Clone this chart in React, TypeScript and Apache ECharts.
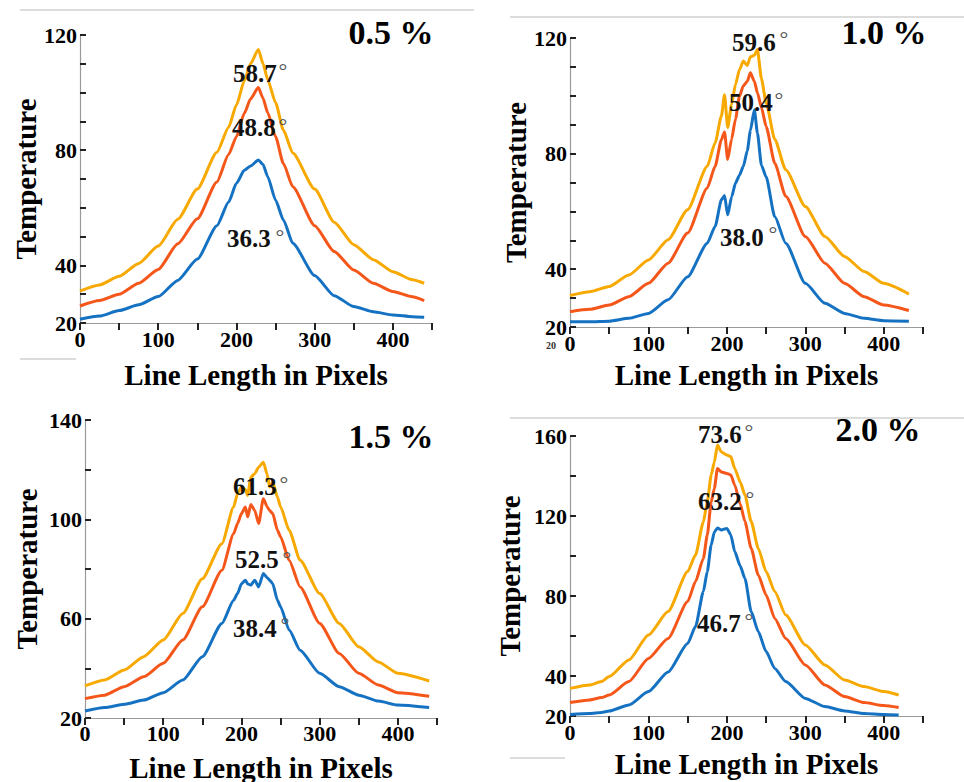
import React, { useEffect, useRef } from "react";
import * as echarts from "echarts";

// ---------- data ----------
// Panel 1: 0.5 %
const X1 = [0, 25, 50, 75, 100, 125, 150, 175, 190, 200, 210, 218, 228, 234, 240, 250, 260, 272, 300, 325, 350, 375, 400, 425, 440];
const Y1 = [31.1, 33.2, 36.2, 40.7, 46.7, 56, 66.5, 79.3, 88, 95.7, 104, 110, 115, 110, 104.5, 96.5, 87, 79, 66.5, 55, 47.2, 42, 37.8, 35, 33.8];
const R1 = [25.9, 27.8, 30, 33.8, 38.6, 47.5, 56.2, 69, 78.5, 84.7, 92.8, 97.8, 101.8, 98, 93, 84.7, 75.4, 67.3, 53.8, 44.8, 38.4, 33.8, 30.9, 29.1, 27.8];
const B1 = [21.3, 22.4, 24.3, 26.3, 29.2, 34.8, 42.2, 53.8, 62, 68.5, 73, 74.5, 76.6, 75, 70.8, 62.7, 55.8, 47.7, 36.5, 29.5, 25.7, 23.9, 22.8, 22.2, 22];

// Panel 2: 1.0 %
const X2 = [0, 25, 50, 75, 100, 125, 150, 175, 185, 193, 197, 201, 206, 211, 216, 221, 226, 230, 235, 239, 244, 250, 261, 275, 300, 325, 350, 375, 400, 432];
const Y2 = [30.9, 32.2, 34, 38, 43.2, 50.2, 60.6, 75.6, 83.7, 93, 100.4, 89, 97, 104, 109, 112, 110.5, 113.5, 114, 116, 106, 97.5, 85, 74.4, 61.7, 51.3, 44.4, 39.2, 35.1, 31.4];
const R2 = [25.3, 26.1, 27.6, 30.5, 35.1, 42.1, 52.5, 68.1, 75.6, 84.8, 87.5, 78, 85, 92, 99.8, 103.5, 105, 108, 105, 101, 96, 89.4, 76.7, 65.2, 51.3, 42.1, 35.1, 30.5, 27.6, 25.7];
const B2 = [21.8, 21.8, 22, 23, 24.7, 29.4, 37.4, 49, 54.8, 64, 65.5, 58.8, 65, 69.8, 72.5, 75.6, 81, 88, 95.2, 87, 76, 72, 58.2, 49, 35.1, 28.2, 24.7, 23, 22.2, 22];

// Panel 3: 1.5 %
const X3 = [0, 25, 50, 75, 100, 125, 150, 175, 190, 195, 200, 205, 208, 212, 217, 222, 228, 233, 236, 240, 246, 250, 261, 275, 300, 325, 350, 375, 400, 440];
const Y3 = [32.9, 35.3, 39.3, 44.7, 51.4, 62.1, 76.1, 90.2, 105, 110.3, 113, 112, 109.6, 117, 118.4, 121, 123, 118, 113, 115, 109, 105, 95.6, 83.5, 70.1, 58.1, 48.7, 42.6, 38, 34.9];
const R3 = [27.8, 29.2, 32.6, 36.6, 42, 51.4, 64.8, 79.5, 94.2, 98.3, 102.3, 105, 101, 106, 103.6, 98.3, 108.3, 105, 103.6, 102.3, 95.6, 93, 83.5, 72.8, 58.1, 46, 38, 33.3, 30.2, 28.8];
const B3 = [22.8, 24.2, 25.5, 27.2, 30.2, 35.3, 44.7, 58.1, 67.4, 70.1, 74.1, 75.5, 74, 73.5, 75.5, 72.8, 78.2, 76.5, 75.5, 74.1, 67.4, 64.8, 55.4, 47.3, 38, 32.6, 29.2, 26.8, 25.2, 24.2];

// Panel 4: 2.0 %
const X4 = [0, 25, 40, 50, 75, 100, 125, 150, 160, 170, 175, 180, 184, 188, 193, 200, 205, 210, 217, 223, 231, 240, 250, 261, 275, 300, 325, 350, 375, 400, 419];
const Y4 = [33.8, 35.5, 37.2, 39.7, 48, 60.5, 72.2, 92.2, 100.5, 117, 127, 140.5, 147, 155.5, 152, 150.5, 149.7, 143.8, 137, 130.5, 117.2, 103.8, 92.2, 82.2, 70.5, 55.5, 45.5, 38, 34.7, 32.2, 30.5];
const R4 = [26.7, 28, 29.2, 30.5, 37.2, 48.8, 58.8, 77.2, 87.2, 98.8, 110.5, 127, 133.8, 143.8, 142, 141.3, 140.5, 135.5, 126, 117.2, 103.8, 90.5, 80.5, 68.8, 58.8, 45.5, 35.5, 29.7, 26.7, 25.2, 24.2];
const B4 = [20.8, 21.3, 21.8, 22.5, 25.5, 32.2, 42, 56.3, 64.7, 82.2, 92.2, 105.5, 112, 114, 113, 113.8, 110.5, 102.2, 95, 88.8, 72.2, 62.2, 52.2, 43.8, 37.2, 28.8, 24.7, 22.5, 21.3, 20.8, 20.5];

// tick labels
const XTICK_LABELS = [0, 100, 200, 300, 400];
const YTICK_LABELS_1 = [20, 40, 80, 120];
const YTICK_LABELS_2 = [20, 40, 80, 120];
const YTICK_LABELS_3 = [20, 60, 100, 140];
const YTICK_LABELS_4 = [20, 40, 80, 120, 160];

// titles and peak annotations
const TITLES = ["0.5 %", "1.0 %", "1.5 %", "2.0 %"];
const PEAK_LABELS = [
  ["58.7", "48.8", "36.3"],
  ["59.6", "50.4", "38.0"],
  ["61.3", "52.5", "38.4"],
  ["73.6", "63.2", "46.7"],
];

const FONT = "'Liberation Serif', 'Times New Roman', serif";
const COL_B = "#1572C2";
const COL_R = "#F5561A";
const COL_Y = "#F7A900";

export default function App() {
  const ref = useRef<HTMLDivElement>(null);

  useEffect(() => {
    if (!ref.current) return;
    const chart = echarts.init(ref.current, undefined, { renderer: "svg" });

    const panels = [
      { xs: X1, b: B1, r: R1, y: Y1, grid: { left: 80, top: 35, width: 352, height: 288 }, yMax: 120, yInt: 10, yLabels: YTICK_LABELS_1, gapY: 40, gapX: 37, xm: 5 },
      { xs: X2, b: B2, r: R2, y: Y2, grid: { left: 570, top: 38, width: 353, height: 289 }, yMax: 120, yInt: 10, yLabels: YTICK_LABELS_2, gapY: 34, gapX: 33, xm: 5 },
      { xs: X3, b: B3, r: R3, y: Y3, grid: { left: 85, top: 420, width: 352, height: 298 }, yMax: 140, yInt: 20, yLabels: YTICK_LABELS_3, gapY: 44, gapX: 35, xm: 4 },
      { xs: X4, b: B4, r: R4, y: Y4, grid: { left: 570, top: 436, width: 353, height: 280 }, yMax: 160, yInt: 20, yLabels: YTICK_LABELS_4, gapY: 46, gapX: 33, xm: 5 },
    ];

    const nameStyle = { fontSize: 29, fontWeight: "bold", fontFamily: FONT, color: "#000" };
    const labelStyle = { fontSize: 22, fontWeight: "bold", fontFamily: FONT, color: "#000" };

    const grids = panels.map((p) => ({ ...p.grid, containLabel: false, outerBoundsMode: "none" }));
    const xAxes = panels.map((p, i) => ({
      type: "value",
      gridIndex: i,
      min: 0,
      max: 450,
      interval: 50,
      name: "Line Length in Pixels",
      nameLocation: "middle",
      nameGap: p.gapX,
      nameTextStyle: nameStyle,
      splitLine: { show: false },
      axisLine: { show: true, lineStyle: { color: "#9a9a9a", width: 1.2 } },
      axisTick: { show: true, inside: false, length: 7, lineStyle: { color: "#222", width: 2 } },
      axisLabel: {
        ...labelStyle,
        margin: p.xm,
        formatter: (v: number) => (XTICK_LABELS.indexOf(v) >= 0 ? String(v) : ""),
      },
    }));
    const yAxes = panels.map((p, i) => ({
      type: "value",
      gridIndex: i,
      min: 20,
      max: p.yMax,
      interval: p.yInt,
      name: "Temperature",
      nameLocation: "middle",
      nameGap: p.gapY,
      nameTextStyle: nameStyle,
      splitLine: { show: false },
      axisLine: { show: true, lineStyle: { color: "#9a9a9a", width: 1.2 } },
      axisTick: { show: true, inside: true, length: 6, lineStyle: { color: "#222", width: 2 } },
      axisLabel: {
        ...labelStyle,
        margin: 3,
        formatter: (v: number) => (p.yLabels.indexOf(v) >= 0 ? String(v) : ""),
      },
    }));

    const series: any[] = [];
    panels.forEach((p, i) => {
      const defs = [
        { vals: p.b, color: COL_B },
        { vals: p.r, color: COL_R },
        { vals: p.y, color: COL_Y },
      ];
      defs.forEach((d, k) => {
        series.push({
          type: "line",
          xAxisIndex: i,
          yAxisIndex: i,
          data: p.xs.map((x, j) => [x, d.vals[j]]),
          showSymbol: false,
          symbol: "none",
          smooth: 0.2,
          smoothMonotone: "x",
          lineStyle: { width: 3, color: d.color },
          itemStyle: { color: d.color },
          z: 2 + k,
        });
      });
    });

    // annotation positions (pixels): [left x of number, center y, ring x, ring y]
    const annPos = [
      [[233, 73, 283, 65], [232, 127, 283, 120], [227, 238, 280, 231]],
      [[732, 42, 784, 33], [729, 102, 779, 94], [720, 237, 773, 228]],
      [[233, 486, 284, 478], [235, 559, 287, 553], [233, 628, 285, 619]],
      [[698, 434, 749, 426], [698, 501, 750, 493], [697, 623, 749, 615]],
    ];
    const titlePos = [[391, 32], [884, 32], [391, 436], [878, 429]];

    const graphic: any[] = [];
    // faint scan-edge lines
    const grayLines = [
      [20, 10, 474, 10],
      [510, 17, 964, 17],
      [510, 418, 964, 418],
      [20, 359, 76, 359],
      [510, 758, 565, 758],
    ];
    grayLines.forEach((l) =>
      graphic.push({ type: "line", shape: { x1: l[0], y1: l[1], x2: l[2], y2: l[3] }, style: { stroke: "#dcdcdc", lineWidth: 2 }, silent: true })
    );
    TITLES.forEach((t, i) =>
      graphic.push({
        type: "text",
        x: titlePos[i][0],
        y: titlePos[i][1],
        style: { text: t, fontSize: 34, fontWeight: "bold", fontFamily: FONT, fill: "#000", textAlign: "center", textVerticalAlign: "middle" },
        z: 10,
      })
    );
    PEAK_LABELS.forEach((arr, i) =>
      arr.forEach((t, k) => {
        const pos = annPos[i][k];
        graphic.push({
          type: "text",
          x: pos[0],
          y: pos[1],
          style: { text: t, fontSize: 25, fontWeight: "bold", fontFamily: FONT, fill: "#111", textAlign: "left", textVerticalAlign: "middle" },
          z: 10,
        });
        graphic.push({
          type: "text",
          x: pos[2],
          y: pos[3] + 5,
          style: { text: "°", fontSize: 22, fontWeight: "normal", fontFamily: FONT, fill: "#555", textAlign: "center", textVerticalAlign: "middle" },
          z: 10,
        });
      })
    );
    // small duplicate "20" artifact under the 1.0 % panel axis
    graphic.push({
      type: "text",
      x: 551,
      y: 345,
      style: { text: "20", fontSize: 10, fontWeight: "bold", fontFamily: FONT, fill: "#333", textAlign: "center", textVerticalAlign: "middle" },
      z: 10,
    });

    chart.setOption({
      animation: false,
      backgroundColor: "#fff",
      grid: grids,
      xAxis: xAxes,
      yAxis: yAxes,
      series,
      graphic,
    });

    return () => chart.dispose();
  }, []);

  return <div ref={ref} style={{ position: "fixed", left: 0, top: 0, width: 964, height: 782 }} />;
}
